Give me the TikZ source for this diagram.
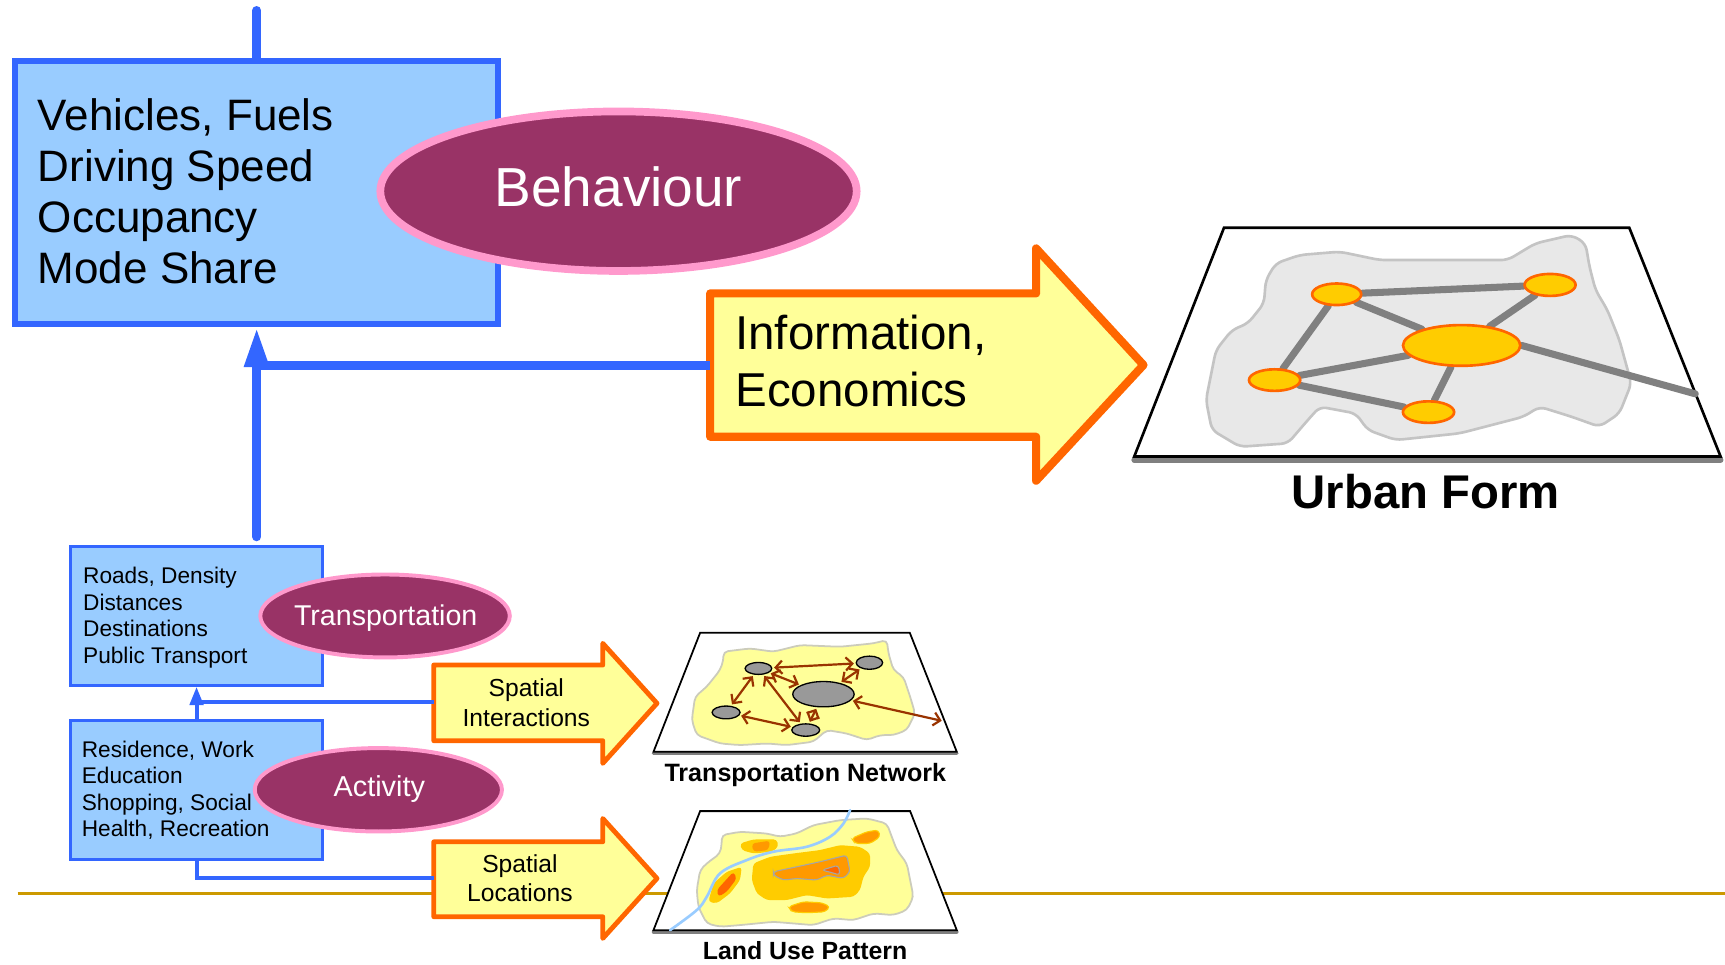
\documentclass[tikz,border=0pt]{standalone}
\usepackage{fontspec}
\setmainfont{Liberation Sans}
\usetikzlibrary{arrows.meta,shapes.geometric,calc}
\definecolor{boxfill}{HTML}{99CCFF}
\definecolor{boxline}{HTML}{3366FF}
\definecolor{ellfill}{HTML}{993366}
\definecolor{ellline}{HTML}{FF99CC}
\definecolor{arrfill}{HTML}{FFFF99}
\definecolor{arrline}{HTML}{FF6600}
\definecolor{goldline}{HTML}{CC9900}
\definecolor{ublob}{HTML}{E8E8E8}
\definecolor{ublobline}{HTML}{C4C4C4}
\definecolor{unodefill}{HTML}{FFCC00}
\definecolor{uedgecol}{HTML}{808080}
\definecolor{brownarr}{HTML}{993300}
\definecolor{rivercol}{HTML}{99CCFF}
\definecolor{lorange}{HTML}{FF9900}
\definecolor{dorange}{HTML}{FF6600}
\definecolor{tnnodecol}{HTML}{999999}
\definecolor{yblobline}{HTML}{CCCCBB}
\pgfdeclarelayer{maps}
\pgfdeclarelayer{links}
\pgfsetlayers{maps,links,main}
\begin{document}
\begin{tikzpicture}[x=0.5pt,y=-0.5pt,
  bigbox/.style={draw=boxline,fill=boxfill,line width=2.75pt,minimum width=219.75pt,minimum height=119.85pt,inner sep=0pt},
  smallbox/.style={draw=boxline,fill=boxfill,line width=1.25pt,minimum width=114.65pt,inner sep=0pt},
  oval/.style={ellipse,draw=ellline,fill=ellfill,inner sep=0pt},
  ovaltext/.style={text=white,inner sep=0pt,anchor=base},
  blockarrow/.style={draw=arrline,fill=arrfill,line join=round},
  link/.style={draw=boxline,line width=4pt},
  thinlink/.style={draw=boxline,line width=1.8pt},
  unode/.style={ellipse,draw=arrline,fill=unodefill,line width=1.2pt,inner sep=0pt},
  uedge/.style={draw=uedgecol,line width=3.2pt,line cap=round},
  tnnode/.style={ellipse,draw=black,fill=tnnodecol,line width=0.6pt,inner sep=0pt},
  tnarrow/.style={draw=brownarr,line width=1pt,{Straight Barb[length=3pt,width=6pt]}-{Straight Barb[length=3pt,width=6pt]},shorten <=0.8pt,shorten >=0.8pt},
  mapframe/.style={draw=black,fill=white,line join=miter},
  maplabel/.style={font=\bfseries\fontsize{11.4}{13}\selectfont,anchor=base,inner sep=0pt},
  patch/.style={rounded corners=1.5pt,line width=0.5pt}
]
\useasboundingbox (0,0) rectangle (1568,876.4);

% ---------------- background layer: gold line and maps ----------------
\begin{pgfonlayer}{maps}
\draw[goldline,line width=1.6pt] (16,812.1) -- (1568,812.1);

% Urban form map
\draw[uedgecol,line width=2.6pt,line cap=round] (1031,418) -- (1564,418);
\draw[mapframe,line width=1.2pt] (1112.6,207) -- (1481,207) -- (1564,415) -- (1031,415) -- cycle;
\draw[draw=ublobline,fill=ublob,line width=1.2pt,rounded corners=3pt]
 (1159.7,239.4) -- (1181.5,231.8) -- (1217.8,228.8) -- (1254.2,236.4) -- (1370.4,236.4) -- (1395.7,221.2) -- (1428.5,213.6) -- (1441.2,221.2) -- (1444.8,242.4) -- (1450.3,263.6) -- (1461.1,281.8) -- (1472,309.1) -- (1482.9,348.5) -- (1472,375.8) -- (1453.9,387.9) -- (1428.5,378.8) -- (1399.4,369.7) -- (1384.9,378.8) -- (1326.8,393.9) -- (1268.7,400) -- (1243.3,390.9) -- (1232.4,375.8) -- (1199.7,369.7) -- (1188.8,381.8) -- (1170.6,403) -- (1127.1,406.1) -- (1101.6,390.9) -- (1096.2,363.6) -- (1105.3,318.2) -- (1119.8,300) -- (1134.4,293.9) -- (1148.9,275.8) -- (1150.6,254.5) -- cycle;

% Transportation network map
\draw[uedgecol,line width=1.6pt,line cap=round] (594,685) -- (869.7,685);
\draw[mapframe,line width=0.8pt] (636.4,575.2) -- (827,575.2) -- (869.7,683.4) -- (594,683.4) -- cycle;
\draw[draw=yblobline,fill=arrfill,line width=0.8pt,rounded corners=2pt]
 (657.6,592.4) -- (681.8,589.4) -- (703,592.4) -- (727.3,586.4) -- (763.6,587.9) -- (793.9,584.8) -- (806.1,581.8) -- (807.6,593.9) -- (812.1,609.1) -- (821.2,615.2) -- (827.3,633.3) -- (831.8,648.5) -- (824.3,663.6) -- (812.1,668.2) -- (800,668.2) -- (787.9,672.7) -- (769.7,666.7) -- (751.5,663.6) -- (739.4,674.2) -- (715.2,677.3) -- (697,675.8) -- (672.7,677.3) -- (654.5,675.8) -- (633.3,668.2) -- (628.8,654.5) -- (631.8,633.3) -- (642.4,624.2) -- (654.5,609.1) -- (657.6,600) -- cycle;

% Land use pattern map
\draw[uedgecol,line width=1.6pt,line cap=round] (594,847.1) -- (869.7,847.1);
\draw[mapframe,line width=0.8pt] (636.4,737.3) -- (827.3,737.3) -- (869.7,845.5) -- (594,845.5) -- cycle;
\draw[draw=yblobline,fill=arrfill,line width=0.8pt,rounded corners=2pt]
 (656.1,759.1) -- (672.7,756.1) -- (697,757.6) -- (709.1,760.6) -- (724.2,757.6) -- (739.4,750) -- (763.6,745.5) -- (787.9,743.9) -- (806.1,748.5) -- (810.6,760.6) -- (815.2,772.7) -- (824.3,784.8) -- (827.3,800) -- (830.3,815.2) -- (824.3,827.3) -- (812.1,831.8) -- (793.9,830.3) -- (775.8,836.4) -- (757.6,834.8) -- (739.4,840.9) -- (721.2,839.4) -- (703,837.9) -- (672.7,840.9) -- (654.5,842.4) -- (642.4,839.4) -- (634.8,824.3) -- (633.3,809.1) -- (636.4,790.9) -- (642.4,784.8) -- (654.5,775.8) -- (656.1,766.7) -- cycle;
% central patch
\fill[unodefill,patch] (684.8,784.8) -- (700,778.8) -- (721.2,775.8) -- (745.5,772.7) -- (763.6,768.2) -- (781.8,769.7) -- (790.9,775.8) -- (790.9,787.9) -- (784.8,797) -- (781.8,809.1) -- (775.8,815.2) -- (751.5,816.7) -- (733.3,813.6) -- (715.2,818.2) -- (697,818.2) -- (687.9,812.1) -- (683.3,800) -- cycle;
\draw[fill=lorange,draw=gray!70,patch] (703,792.4) -- (724.2,787.9) -- (745.5,783.3) -- (769.7,777.3) -- (772.7,792.4) -- (766.7,798.5) -- (751.5,795.5) -- (742.4,800) -- (724.2,798.5) -- (712.1,800) -- (703,795.5) -- cycle;
\draw[fill=dorange,draw=gray!70,patch] (747,790.9) -- (762.1,786.4) -- (763.6,795.5) -- (757,793.4) -- cycle;
% left patch
\fill[unodefill,patch] (648.5,803) -- (660.6,792.4) -- (674.2,787.9) -- (672.7,800) -- (663.6,812.1) -- (651.5,821.2) -- (643.9,819.7) -- cycle;
\fill[dorange,patch] (651.5,809.1) -- (666.7,792.4) -- (669.7,798.5) -- (660.6,810.6) -- (653,815.2) -- cycle;
% top-left patch
\fill[unodefill,patch] (672.7,766.7) -- (684.8,763) -- (706.1,763) -- (707.6,769.7) -- (701.5,774.2) -- (684.8,775.8) -- (674.2,772.7) -- cycle;
\fill[lorange,patch] (683.3,766.7) -- (700,764.2) -- (698.5,772.7) -- (684.8,774.2) -- cycle;
% top-right patch
\draw[fill=lorange,draw=unodefill,patch] (774.2,762.1) -- (787.9,756.1) -- (798.5,754.5) -- (800,760.6) -- (790.9,766.7) -- (777.3,766.7) -- cycle;
% bottom patch
\draw[fill=lorange,draw=unodefill,patch] (716.7,824.2) -- (730.3,819.7) -- (747,820.6) -- (754.5,824.2) -- (750,828.8) -- (733.3,829.7) -- (719.7,828.8) -- cycle;
% river
\draw[rivercol,line width=1.2pt,line cap=round] plot[smooth,tension=0.6] coordinates {(772.7,736.4) (766.7,748.5) (754.5,760.6) (733.3,769.7) (703,774.2) (678.8,781.8) (654.5,793.9) (642.4,815.2) (633.3,827.3) (609.1,845.5)};
\end{pgfonlayer}

% ---------------- urban form network ----------------
\node[unode,minimum width=22.3pt,minimum height=9.8pt] (uA) at (1215,267.5) {};
\node[unode,minimum width=23.2pt,minimum height=10pt] (uB) at (1409,259) {};
\node[unode,minimum width=53.3pt,minimum height=18.5pt] (uC) at (1328.6,314) {};
\node[unode,minimum width=23.3pt,minimum height=9.8pt] (uD) at (1158.6,345.5) {};
\node[unode,minimum width=23.3pt,minimum height=9.8pt] (uE) at (1298.5,374.6) {};
\coordinate (uEnd) at (1541,358);
\begin{pgfonlayer}{links}
\draw[uedge] (uA) -- (uB);
\draw[uedge] (uA) -- (uC);
\draw[uedge] (uA) -- (uD);
\draw[uedge] (uB) -- (uC);
\draw[uedge] (uC) -- (uD);
\draw[uedge] (uC) -- (uE);
\draw[uedge] (uD) -- (uE);
\draw[uedge] (uC.east) -- (uEnd);
\end{pgfonlayer}
\node[font=\bfseries\fontsize{21.5}{26}\selectfont,anchor=base,inner sep=0pt] (urbanlabel) at (1296,462.1) {Urban Form};

% ---------------- transportation network ----------------
\node[tnnode,minimum width=12.1pt,minimum height=5.4pt] (n1) at (689.4,607.6) {};
\node[tnnode,minimum width=12pt,minimum height=6pt] (n2) at (790.3,602.4) {};
\node[tnnode,minimum width=27.9pt,minimum height=11.5pt] (n3) at (748.5,631) {};
\node[tnnode,minimum width=12.7pt,minimum height=5.8pt] (n4) at (660,647.6) {};
\node[tnnode,minimum width=12.7pt,minimum height=5.6pt] (n5) at (732.4,663.6) {};
\coordinate (tfar) at (856,655.2);
\draw[tnarrow] (n1) -- (n2);
\draw[tnarrow] (n1) -- (n4);
\draw[tnarrow] (n1) -- (n3);
\draw[tnarrow] (n1) -- (n5);
\draw[tnarrow] (n2) -- (n3);
\draw[tnarrow] (n4) -- (n5);
\draw[tnarrow] (n3) -- (n5);
\draw[tnarrow,shorten >=0pt] (n3) -- (tfar);
\node[maplabel] (tnlabel) at (732,710.6) {Transportation Network};
\node[maplabel,font=\bfseries\fontsize{11.3}{13}\selectfont] (lulabel) at (731.8,872) {Land Use Pattern};

% ---------------- boxes ----------------
\coordinate (topend) at (233.3,9.5);
\draw[link,line cap=round] (topend) -- (233.3,60);
\node[bigbox] (bigbox) at (233,175) {};
\node[anchor=base west,align=left,inner sep=0pt,font=\fontsize{20}{23.15}\selectfont] (bigtext) at (34,257.6) {Vehicles, Fuels\\Driving Speed\\Occupancy\\Mode Share};
\node[oval,line width=3.5pt,minimum width=216.5pt,minimum height=72.5pt] (behaviour) at (562.2,173.8) {};
\node[ovaltext,font=\fontsize{25}{30}\selectfont] (behtext) at (562.2,187.9) {Behaviour};

\node[smallbox,minimum height=63.15pt] (tbox) at (178.65,559.85) {};
\node[anchor=base west,align=left,inner sep=0pt,font=\fontsize{10.3}{12.15}\selectfont] (ttext) at (75.2,603.3) {Roads, Density\\Distances\\Destinations\\Public Transport};
\node[oval,line width=1.8pt,minimum width=113.4pt,minimum height=37.7pt] (transp) at (350,559.9) {};
\node[ovaltext,font=\fontsize{13}{15}\selectfont] (transptext) at (350.6,568.2) {Transportation};

\node[smallbox,minimum height=63pt] (abox) at (178.65,718) {};
\node[anchor=base west,align=left,inner sep=0pt,font=\fontsize{10.3}{12.05}\selectfont] (atext) at (74,760.6) {Residence, Work\\Education\\Shopping, Social\\Health, Recreation};
\node[oval,line width=1.8pt,minimum width=112.35pt,minimum height=37.9pt] (activity) at (343.9,717.9) {};
\node[ovaltext,font=\fontsize{13.1}{15}\selectfont] (acttext) at (344.8,724.2) {Activity};

% ---------------- block arrows ----------------
\draw[blockarrow,line width=3.7pt] (645.5,266.7) -- (941.8,266.7) -- (941.8,225.8) -- (1039.4,331.8) -- (941.8,437) -- (941.8,397) -- (645.5,397) -- cycle;
\coordinate (infoL) at (645.5,332.3);
\node[anchor=base west,align=left,inner sep=0pt,font=\fontsize{21.6}{25.8}\selectfont] (infotext) at (668,369.7) {Information,\\Economics};

\draw[blockarrow,line width=2.2pt] (394.3,604.5) -- (547.9,604.5) -- (547.9,584.8) -- (597.2,639.3) -- (547.9,693.9) -- (547.9,673.3) -- (394.3,673.3) -- cycle;
\coordinate (siL) at (394.3,638.5);
\node[anchor=base,align=center,inner sep=0pt,font=\fontsize{11.2}{13.3}\selectfont] (sitext) at (478.4,660) {Spatial\\Interactions};

\draw[blockarrow,line width=2.2pt] (394.3,765.2) -- (547.9,765.2) -- (547.9,744) -- (597.2,798.5) -- (547.9,853) -- (547.9,833.3) -- (394.3,833.3) -- cycle;
\coordinate (slL) at (394.3,798.5);
\node[anchor=base,align=center,inner sep=0pt,font=\fontsize{11.2}{13.35}\selectfont] (sltext) at (472.6,819.7) {Spatial\\Locations};

% ---------------- connectors ----------------
\coordinate (vstart) at (233.3,488);
\draw[link,line cap=round] (vstart) -- (233.3,340);
\draw[link,-{Triangle[length=18pt,width=10.5pt]}] (233.3,345) -- (bigbox.south -| vstart);
\draw[link] (infoL) -- (infoL -| vstart);
\draw[thinlink,-{Triangle[length=8.3pt,width=6pt]}] (abox.north) -- (tbox.south);
\draw[thinlink] (siL) -- (siL -| abox.north);
\draw[thinlink] (slL) -- (slL -| abox.south) -- (abox.south);
\end{tikzpicture}
\end{document}
